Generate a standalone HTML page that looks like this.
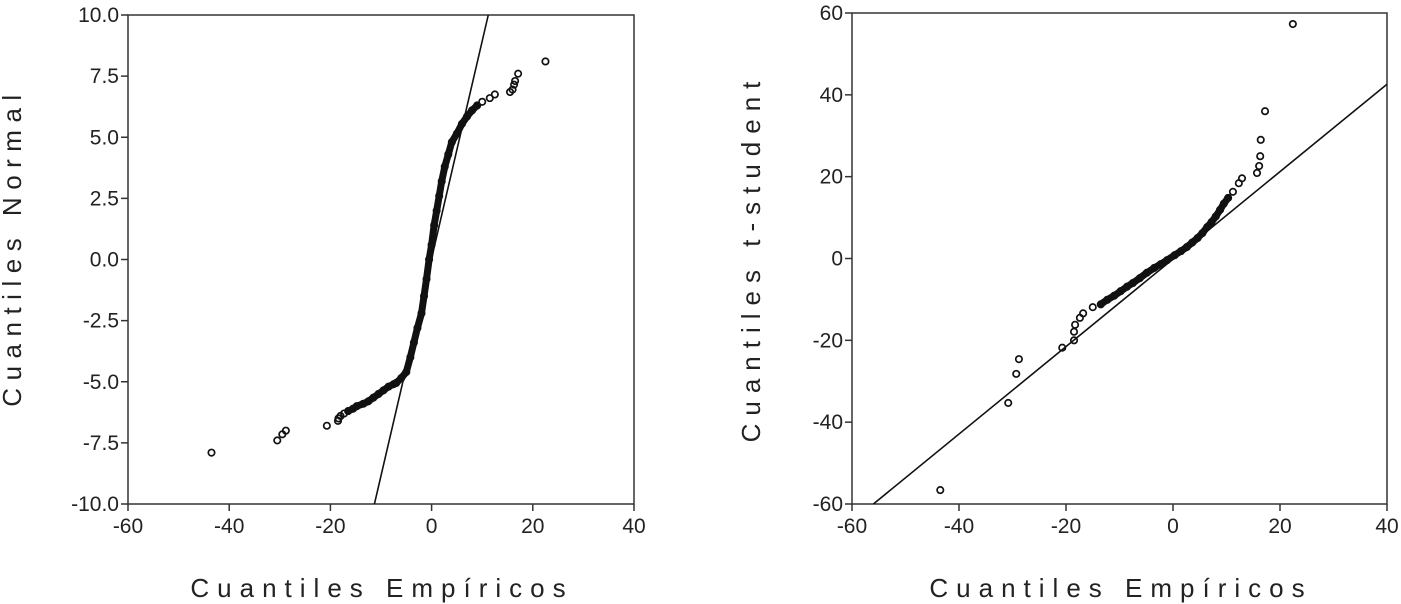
<!DOCTYPE html>
<html><head><meta charset="utf-8">
<style>
body{margin:0;background:#fff;}
svg{display:block;font-family:"Liberation Sans",Arial,sans-serif;}
</style></head>
<body>
<svg id="chart" width="1401" height="604" viewBox="0 0 1401 604">
<rect width="1401" height="604" fill="#fff"/>
<g id="left"></g>
<g id="right"></g>
<text x="382" y="597" font-size="26" text-anchor="middle" letter-spacing="8" fill="#222">Cuantiles Empíricos</text>
<text x="1121" y="597" font-size="26" text-anchor="middle" letter-spacing="8" fill="#222">Cuantiles Empíricos</text>
<text transform="translate(21,247) rotate(-90)" font-size="26" text-anchor="middle" letter-spacing="7.5" fill="#222">Cuantiles Normal</text>
<text transform="translate(760,258) rotate(-90)" font-size="26" text-anchor="middle" letter-spacing="8" fill="#222">Cuantiles  t-student</text>
</svg>
<script>
// Left panel data (empirical x, normal quantile y)
const leftXTicks = [-60,-40,-20,0,20,40];
const leftYTicks = [-10,-7.5,-5,-2.5,0,2.5,5,7.5,10];
const leftYLabels = ["-10.0","-7.5","-5.0","-2.5","0.0","2.5","5.0","7.5","10.0"];
const leftEmp = [-43.5,-30.5,-29.5,-28.8,-20.7,-18.5,-18.4,-18,-17.3,-16.5,-15.5,-14.8,-13.5,-12.5,-11.5,-10.5,-9.5,-8.5,-7.5,-7,-6,-5,-4.2,-3.5,-2.8,-2.0,-1.5,-1.0,-0.5,0,0.5,1.0,1.5,2,2.6,3.3,4,5,6,7,8,9,10,11.5,12.5,15.5,16,16.3,16.5,17.1,22.5];
const leftNorm = [-7.9,-7.4,-7.15,-7.0,-6.8,-6.6,-6.5,-6.4,-6.3,-6.2,-6.1,-6.0,-5.9,-5.8,-5.65,-5.5,-5.35,-5.2,-5.1,-5.05,-4.85,-4.6,-4.0,-3.4,-2.8,-2.2,-1.5,-0.8,0,0.6,1.4,2.0,2.6,3.2,3.8,4.3,4.8,5.15,5.55,5.85,6.1,6.3,6.45,6.6,6.75,6.85,6.95,7.15,7.3,7.6,8.1];
const leftDenseFrom = 9, leftDenseTo = 41;
const leftRefLine = [[-11.3,-10],[11.2,10]];

// Right panel data (empirical x, t-student quantile y)
const rightXTicks = [-60,-40,-20,0,20,40];
const rightYTicks = [-60,-40,-20,0,20,40,60];
const rightEmp = [-43.5,-30.8,-29.3,-28.8,-20.7,-18.5,-18.5,-18.3,-17.4,-16.8,-15,-13.5,-12.3,-11,-9.8,-8.6,-7.5,-6.2,-4.9,-3.5,-2.3,-1.1,0.3,1.5,2.6,3.6,4.6,5.5,6.4,7.2,8,8.8,9.5,10.3,11.2,12.3,12.9,15.7,16.1,16.3,16.4,17.2,22.4];
const rightT = [-56.6,-35.3,-28.2,-24.6,-21.8,-20,-17.9,-16.2,-14.5,-13.4,-11.9,-11.2,-10.1,-9.1,-8,-6.9,-6,-4.8,-3.5,-2.3,-1.4,-0.4,0.8,1.8,2.8,3.9,5.0,6.2,7.7,8.9,10.3,11.9,13.4,14.8,16.3,18.4,19.6,20.9,22.6,25,29,36,57.3];
const rightDenseFrom = 11, rightDenseTo = 33;
const rightRefLine = [[-56,-60],[40,42.6]];

const NS = "http://www.w3.org/2000/svg";
function mk(parent, tag, attrs){const e=document.createElementNS(NS,tag);for(const k in attrs)e.setAttribute(k,attrs[k]);parent.appendChild(e);return e;}

function panel(g, box, xd, yd, xTicks, yTicks, yLabels, xs, ys, dFrom, dTo, ref, prefix){
  const sx = v => box.l + (v-xd[0])/(xd[1]-xd[0])*(box.r-box.l);
  const sy = v => box.b - (v-yd[0])/(yd[1]-yd[0])*(box.b-box.t);
  const frame = mk(g,'rect',{x:box.l,y:box.t,width:box.r-box.l,height:box.b-box.t,fill:'none',stroke:'#333','stroke-width':1.5});
  
  
  xTicks.forEach(v=>{
    const t=mk(g,'line',{x1:sx(v),x2:sx(v),y1:box.b,y2:box.b+7,stroke:'#333','stroke-width':1.5});
    
    
    const l=mk(g,'text',{x:sx(v),y:box.b+29,'font-size':21,'text-anchor':'middle',fill:'#222'});
    l.textContent=String(v);
    
    
  });
  yTicks.forEach((v,i)=>{
    const t=mk(g,'line',{x1:box.l-7,x2:box.l,y1:sy(v),y2:sy(v),stroke:'#333','stroke-width':1.5});
    
    
    const l=mk(g,'text',{x:box.l-9,y:sy(v)+7,'font-size':21,'text-anchor':'end',fill:'#222'});
    l.textContent=yLabels?yLabels[i]:String(v);
    
    
  });
  const rl=mk(g,'line',{x1:sx(ref[0][0]),y1:sy(ref[0][1]),x2:sx(ref[1][0]),y2:sy(ref[1][1]),stroke:'#111','stroke-width':1.6});
  
  
  let d='';
  for(let i=dFrom;i<=dTo;i++) d+=(i===dFrom?'M':'L')+sx(xs[i]).toFixed(1)+','+sy(ys[i]).toFixed(1);
  const band=mk(g,'path',{d:d,fill:'none',stroke:'#111','stroke-width':7,'stroke-linejoin':'round','stroke-linecap':'round'});
  
  
  xs.forEach((v,i)=>{
    const c=mk(g,'circle',{cx:sx(v),cy:sy(ys[i]),r:3.2,fill:'none',stroke:'#111','stroke-width':1.7});
    
    
  });
}
panel(document.getElementById('left'),{l:128,r:634,t:15,b:504},[-60,40],[-10,10],leftXTicks,leftYTicks,leftYLabels,leftEmp,leftNorm,leftDenseFrom,leftDenseTo,leftRefLine,'left');
panel(document.getElementById('right'),{l:852,r:1387,t:13,b:504},[-60,40],[-60,60],rightXTicks,rightYTicks,null,rightEmp,rightT,rightDenseFrom,rightDenseTo,rightRefLine,'right');
</script>
</body></html>
